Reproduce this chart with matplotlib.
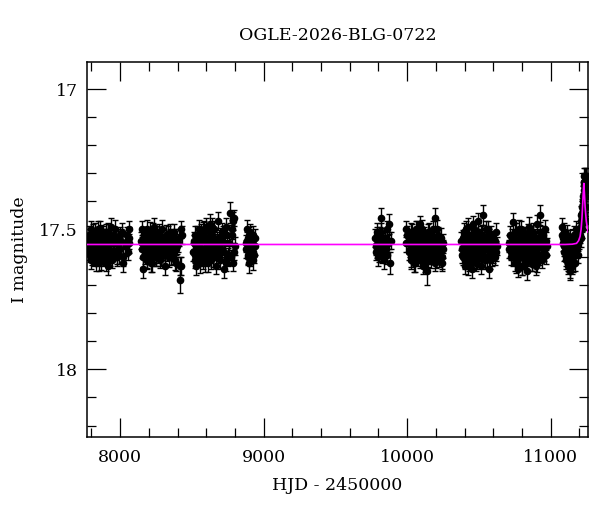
import matplotlib
matplotlib.use("Agg")
import matplotlib.pyplot as plt
from matplotlib.ticker import MultipleLocator

title = "OGLE-2026-BLG-0722"
xlabel = "HJD - 2450000"
ylabel = "I magnitude"

# observing seasons: HJD-2450000, I mag, error
s1_t = [7776, 7783, 7789, 7795, 7801, 7807, 7812, 7818, 7824, 7830,
        7836, 7842, 7847, 7853, 7859, 7865, 7871, 7877, 7883, 7889,
        7895, 7901, 7907, 7913, 7919, 7925, 7931, 7937, 7944, 7950,
        7957, 7964, 7971, 7979, 7987, 7996, 8006, 8017, 8040, 8064]
s1_m = [17.55, 17.52, 17.59, 17.61, 17.54, 17.51, 17.57, 17.60, 17.53, 17.56,
        17.59, 17.50, 17.55, 17.62, 17.54, 17.52, 17.58, 17.56, 17.60, 17.53,
        17.57, 17.51, 17.55, 17.63, 17.54, 17.59, 17.52, 17.49, 17.61, 17.53,
        17.58, 17.50, 17.55, 17.60, 17.57, 17.52, 17.54, 17.62, 17.56, 17.53]
s1_e = [0.030, 0.033, 0.028, 0.031, 0.035, 0.029, 0.032, 0.030, 0.027, 0.034,
        0.031, 0.029, 0.033, 0.030, 0.028, 0.036, 0.031, 0.029, 0.032, 0.030,
        0.034, 0.028, 0.031, 0.033, 0.029, 0.030, 0.035, 0.032, 0.028, 0.031,
        0.030, 0.033, 0.029, 0.031, 0.034, 0.030, 0.028, 0.032, 0.036, 0.040]

s2_t = [8146, 8152, 8158, 8163, 8169, 8175, 8181, 8187, 8193, 8199,
        8205, 8211, 8217, 8223, 8229, 8235, 8241, 8247, 8253, 8259,
        8265, 8271, 8277, 8283, 8289, 8296, 8303, 8310, 8317, 8324,
        8332, 8340, 8349, 8358, 8368, 8379, 8392, 8405, 8417, 8429]
s2_m = [17.54, 17.50, 17.64, 17.57, 17.52, 17.59, 17.55, 17.61, 17.53, 17.56,
        17.51, 17.58, 17.55, 17.62, 17.53, 17.49, 17.57, 17.60, 17.54, 17.52,
        17.59, 17.56, 17.61, 17.53, 17.50, 17.58, 17.55, 17.63, 17.52, 17.57,
        17.54, 17.60, 17.51, 17.56, 17.59, 17.53, 17.62, 17.55, 17.68, 17.52]
s2_e = [0.031, 0.029, 0.033, 0.030, 0.028, 0.034, 0.031, 0.029, 0.032, 0.030,
        0.035, 0.028, 0.031, 0.033, 0.029, 0.030, 0.034, 0.032, 0.028, 0.031,
        0.030, 0.033, 0.029, 0.031, 0.035, 0.030, 0.028, 0.032, 0.036, 0.031,
        0.029, 0.033, 0.030, 0.028, 0.034, 0.031, 0.029, 0.032, 0.046, 0.033]

s3_t = [8508, 8515, 8521, 8528, 8534, 8540, 8546, 8552, 8558, 8564,
        8570, 8576, 8582, 8588, 8594, 8600, 8606, 8612, 8618, 8624,
        8630, 8636, 8642, 8648, 8654, 8660, 8667, 8674, 8681, 8688,
        8695, 8703, 8711, 8720, 8729, 8739, 8750, 8765, 8780, 8795]
s3_m = [17.58, 17.54, 17.61, 17.63, 17.52, 17.56, 17.50, 17.59, 17.55, 17.53,
        17.60, 17.51, 17.57, 17.54, 17.62, 17.49, 17.56, 17.59, 17.53, 17.48,
        17.55, 17.61, 17.52, 17.58, 17.50, 17.56, 17.63, 17.54, 17.47, 17.59,
        17.53, 17.57, 17.51, 17.64, 17.55, 17.49, 17.60, 17.44, 17.52, 17.58]
s3_e = [0.032, 0.030, 0.028, 0.033, 0.031, 0.029, 0.034, 0.030, 0.028, 0.032,
        0.031, 0.035, 0.029, 0.030, 0.033, 0.031, 0.028, 0.032, 0.030, 0.034,
        0.029, 0.031, 0.033, 0.030, 0.028, 0.035, 0.031, 0.029, 0.032, 0.030,
        0.034, 0.028, 0.031, 0.033, 0.029, 0.030, 0.032, 0.036, 0.034, 0.031]

s4_t = [8878, 8883, 8888, 8893, 8898, 8903, 8908, 8913, 8918, 8923, 8928, 8933, 8937, 8940]
s4_m = [17.55, 17.50, 17.60, 17.53, 17.62, 17.57, 17.51, 17.58, 17.54, 17.61, 17.52, 17.59, 17.56, 17.53]
s4_e = [0.030, 0.033, 0.029, 0.031, 0.035, 0.030, 0.028, 0.032, 0.030, 0.034, 0.031, 0.029, 0.033, 0.030]

s5_t = [9778, 9784, 9790, 9796, 9802, 9808, 9814, 9816, 9822, 9828,
        9834, 9840, 9846, 9852, 9858, 9862, 9868, 9874, 9880, 9890]
s5_m = [17.53, 17.58, 17.51, 17.60, 17.55, 17.57, 17.52, 17.46, 17.59, 17.54,
        17.56, 17.61, 17.53, 17.57, 17.50, 17.59, 17.55, 17.48, 17.62, 17.54]
s5_e = [0.032, 0.030, 0.034, 0.031, 0.029, 0.033, 0.030, 0.035, 0.031, 0.028,
        0.032, 0.030, 0.034, 0.029, 0.031, 0.033, 0.030, 0.036, 0.038, 0.031]

s6_t = [9990, 9995, 9998, 10012, 10018, 10024, 10030, 10036, 10042, 10048,
        10054, 10060, 10066, 10072, 10078, 10084, 10090, 10096, 10102, 10108,
        10114, 10120, 10126, 10132, 10137, 10143, 10149, 10155, 10161, 10167,
        10173, 10179, 10185, 10191, 10195, 10201, 10207, 10214, 10222, 10230,
        10240, 10250]
s6_m = [17.55, 17.50, 17.52, 17.58, 17.54, 17.61, 17.51, 17.56, 17.59, 17.53,
        17.62, 17.55, 17.50, 17.57, 17.60, 17.53, 17.48, 17.58, 17.55, 17.63,
        17.52, 17.56, 17.60, 17.54, 17.65, 17.51, 17.57, 17.59, 17.53, 17.61,
        17.55, 17.50, 17.58, 17.62, 17.46, 17.54, 17.57, 17.52, 17.60, 17.56,
        17.60, 17.55]
s6_e = [0.031, 0.029, 0.033, 0.030, 0.028, 0.032, 0.031, 0.034, 0.029, 0.030,
        0.033, 0.031, 0.028, 0.032, 0.030, 0.035, 0.029, 0.031, 0.033, 0.030,
        0.028, 0.032, 0.034, 0.031, 0.047, 0.029, 0.030, 0.033, 0.031, 0.028,
        0.032, 0.030, 0.034, 0.029, 0.036, 0.031, 0.033, 0.030, 0.035, 0.032,
        0.040, 0.034]

s7_t = [10372, 10381, 10388, 10394, 10400, 10406, 10412, 10418, 10424, 10430,
        10436, 10442, 10448, 10454, 10460, 10466, 10472, 10478, 10484, 10490,
        10496, 10502, 10508, 10514, 10520, 10526, 10531, 10537, 10543, 10549,
        10555, 10561, 10567, 10573, 10579, 10585, 10591, 10597, 10601, 10607,
        10614, 10622]
s7_m = [17.54, 17.57, 17.60, 17.51, 17.63, 17.56, 17.53, 17.59, 17.49, 17.62,
        17.55, 17.58, 17.52, 17.64, 17.57, 17.50, 17.60, 17.54, 17.61, 17.53,
        17.47, 17.58, 17.56, 17.63, 17.52, 17.59, 17.45, 17.55, 17.61, 17.53,
        17.57, 17.50, 17.64, 17.56, 17.59, 17.52, 17.60, 17.55, 17.585, 17.57,
        17.54, 17.58]
s7_e = [0.032, 0.030, 0.028, 0.033, 0.031, 0.029, 0.034, 0.030, 0.032, 0.028,
        0.031, 0.035, 0.029, 0.033, 0.030, 0.031, 0.028, 0.034, 0.032, 0.030,
        0.029, 0.033, 0.031, 0.030, 0.035, 0.028, 0.036, 0.032, 0.030, 0.033,
        0.029, 0.031, 0.034, 0.030, 0.028, 0.032, 0.031, 0.033, 0.036, 0.030,
        0.032, 0.034]

s8_t = [10708, 10716, 10724, 10734, 10740, 10746, 10752, 10758, 10764, 10770,
        10776, 10782, 10788, 10794, 10800, 10806, 10812, 10818, 10824, 10830,
        10836, 10842, 10848, 10854, 10860, 10866, 10872, 10878, 10884, 10890,
        10896, 10902, 10908, 10914, 10920, 10927, 10933, 10940, 10948, 10956,
        10964, 10969]
s8_m = [17.55, 17.52, 17.58, 17.475, 17.60, 17.54, 17.62, 17.51, 17.57, 17.64,
        17.53, 17.59, 17.56, 17.50, 17.63, 17.55, 17.58, 17.52, 17.61, 17.54,
        17.65, 17.57, 17.49, 17.60, 17.53, 17.56, 17.62, 17.51, 17.58, 17.55,
        17.63, 17.48, 17.57, 17.60, 17.53, 17.45, 17.59, 17.55, 17.52, 17.58,
        17.54, 17.59]
s8_e = [0.031, 0.033, 0.029, 0.034, 0.030, 0.032, 0.028, 0.031, 0.035, 0.030,
        0.029, 0.033, 0.031, 0.028, 0.034, 0.030, 0.032, 0.029, 0.031, 0.033,
        0.030, 0.028, 0.035, 0.031, 0.029, 0.032, 0.030, 0.034, 0.031, 0.028,
        0.033, 0.030, 0.032, 0.029, 0.031, 0.036, 0.030, 0.033, 0.031, 0.034,
        0.032, 0.035]

s9_t = [11080, 11085, 11090, 11095, 11100, 11104, 11108, 11112, 11116, 11120,
        11124, 11128, 11132, 11136, 11140, 11144, 11148, 11152, 11156, 11160,
        11164, 11168, 11172, 11176, 11180, 11184, 11188, 11192, 11196, 11200,
        11204, 11208, 11212, 11215, 11218, 11221, 11224, 11227, 11230, 11233,
        11236, 11239, 11242, 11245, 11248, 11251, 11254, 11257]
s9_m = [17.49, 17.53, 17.56, 17.51, 17.58, 17.54, 17.60, 17.52, 17.57, 17.62,
        17.55, 17.59, 17.64, 17.53, 17.61, 17.57, 17.63, 17.55, 17.60, 17.52,
        17.58, 17.62, 17.54, 17.50, 17.57, 17.53, 17.59, 17.55, 17.51, 17.54,
        17.50, 17.53, 17.47, 17.50, 17.44, 17.47, 17.40, 17.43, 17.36, 17.33,
        17.35, 17.31, 17.38, 17.31, 17.42, 17.33, 17.47, 17.36]
s9_e = [0.032, 0.030, 0.034, 0.031, 0.029, 0.033, 0.030, 0.035, 0.031, 0.028,
        0.032, 0.030, 0.034, 0.029, 0.031, 0.033, 0.030, 0.032, 0.028, 0.031,
        0.034, 0.030, 0.032, 0.029, 0.031, 0.033, 0.030, 0.028, 0.032, 0.031,
        0.030, 0.033, 0.029, 0.031, 0.030, 0.032, 0.028, 0.031, 0.030, 0.029,
        0.031, 0.030, 0.032, 0.029, 0.031, 0.030, 0.033, 0.031]

# further nights in the same seasons
x1_t = [7779, 7786, 7792, 7798, 7804, 7810, 7815, 7821, 7827, 7833,
        7839, 7845, 7850, 7856, 7862, 7868, 7874, 7880, 7886, 7892,
        7898, 7904, 7910, 7916, 7922, 7928, 7934, 7947, 7960, 7992]
x1_m = [17.58, 17.56, 17.53, 17.50, 17.60, 17.57, 17.54, 17.51, 17.59, 17.62,
        17.55, 17.53, 17.60, 17.57, 17.50, 17.61, 17.54, 17.52, 17.58, 17.56,
        17.62, 17.53, 17.59, 17.51, 17.57, 17.60, 17.55, 17.58, 17.52, 17.59]
x2_t = [8149, 8155, 8161, 8166, 8172, 8178, 8184, 8190, 8196, 8202,
        8208, 8214, 8220, 8226, 8232, 8238, 8244, 8250, 8256, 8262,
        8268, 8274, 8280, 8286, 8293, 8300, 8314, 8336, 8386, 8422]
x2_m = [17.57, 17.55, 17.60, 17.52, 17.58, 17.54, 17.61, 17.50, 17.56, 17.59,
        17.53, 17.62, 17.57, 17.51, 17.59, 17.55, 17.52, 17.60, 17.57, 17.54,
        17.51, 17.58, 17.55, 17.60, 17.53, 17.56, 17.59, 17.52, 17.57, 17.63]
x3_t = [8511, 8518, 8524, 8531, 8537, 8543, 8549, 8555, 8561, 8567,
        8573, 8579, 8585, 8591, 8597, 8603, 8609, 8615, 8621, 8627,
        8633, 8639, 8645, 8651, 8657, 8664, 8684, 8715, 8772, 8788]
x3_m = [17.55, 17.59, 17.52, 17.57, 17.60, 17.53, 17.56, 17.62, 17.51, 17.58,
        17.54, 17.61, 17.50, 17.57, 17.53, 17.59, 17.55, 17.62, 17.51, 17.57,
        17.54, 17.49, 17.60, 17.56, 17.53, 17.58, 17.55, 17.52, 17.60, 17.47]
x4_t = [8880, 8886, 8891, 8896, 8901, 8906, 8916, 8926]
x4_m = [17.57, 17.54, 17.59, 17.52, 17.56, 17.60, 17.55, 17.58]
x5_t = [9781, 9787, 9793, 9799, 9805, 9811, 9819, 9825, 9849, 9871]
x5_m = [17.56, 17.52, 17.57, 17.54, 17.59, 17.55, 17.51, 17.58, 17.56, 17.54]
x6_t = [10015, 10021, 10027, 10033, 10039, 10045, 10051, 10057, 10063, 10069,
        10075, 10081, 10087, 10093, 10099, 10105, 10111, 10117, 10123, 10129,
        10135, 10140, 10146, 10152, 10158, 10164, 10170, 10182, 10198, 10218]
x6_m = [17.53, 17.57, 17.60, 17.51, 17.55, 17.62, 17.58, 17.54, 17.50, 17.59,
        17.56, 17.52, 17.61, 17.55, 17.58, 17.50, 17.57, 17.54, 17.62, 17.59,
        17.53, 17.56, 17.60, 17.51, 17.57, 17.54, 17.59, 17.53, 17.56, 17.58]
x7_t = [10384, 10391, 10397, 10403, 10409, 10415, 10421, 10427, 10433, 10439,
        10445, 10451, 10457, 10463, 10469, 10475, 10481, 10487, 10493, 10499,
        10505, 10511, 10517, 10523, 10534, 10546, 10558, 10570, 10582, 10594]
x7_m = [17.59, 17.53, 17.56, 17.61, 17.50, 17.57, 17.54, 17.63, 17.52, 17.58,
        17.55, 17.61, 17.48, 17.56, 17.59, 17.53, 17.62, 17.57, 17.51, 17.60,
        17.55, 17.52, 17.59, 17.57, 17.54, 17.50, 17.60, 17.53, 17.56, 17.58]
x8_t = [10712, 10720, 10728, 10737, 10743, 10749, 10755, 10761, 10767, 10773,
        10779, 10785, 10791, 10797, 10803, 10809, 10815, 10821, 10827, 10833,
        10839, 10845, 10851, 10857, 10863, 10869, 10881, 10899, 10917, 10944]
x8_m = [17.57, 17.60, 17.53, 17.56, 17.59, 17.51, 17.55, 17.62, 17.58, 17.54,
        17.50, 17.60, 17.57, 17.63, 17.52, 17.56, 17.59, 17.54, 17.61, 17.57,
        17.51, 17.60, 17.55, 17.58, 17.52, 17.62, 17.55, 17.57, 17.60, 17.56]
x9_t = [11082, 11088, 11093, 11098, 11102, 11106, 11110, 11114, 11118, 11122,
        11126, 11130, 11134, 11138, 11142, 11146, 11150, 11154, 11158, 11162,
        11206, 11210, 11214, 11217, 11220, 11223, 11226, 11229, 11232, 11235]
x9_m = [17.52, 17.55, 17.58, 17.53, 17.56, 17.61, 17.57, 17.59, 17.63, 17.55,
        17.60, 17.62, 17.58, 17.65, 17.60, 17.56, 17.61, 17.58, 17.62, 17.57,
        17.52, 17.49, 17.45, 17.48, 17.42, 17.45, 17.38, 17.34, 17.31, 17.33]
x_e = [0.031, 0.029, 0.033, 0.030, 0.028, 0.032, 0.031, 0.034, 0.029, 0.030,
       0.033, 0.031, 0.028, 0.032, 0.030, 0.035, 0.029, 0.031, 0.033, 0.030,
       0.028, 0.032, 0.034, 0.031, 0.029, 0.030, 0.033, 0.031, 0.028, 0.032]

# late nights of several seasons
y1_t = [7975, 7983, 8000, 8011, 8023, 8030, 8046, 8052, 8058, 8062]
y1_m = [17.59, 17.53, 17.57, 17.51, 17.60, 17.55, 17.52, 17.58, 17.55, 17.50]
y2_t = [8328, 8345, 8353, 8363, 8373, 8384, 8397, 8410, 8414, 8426]
y2_m = [17.58, 17.53, 17.60, 17.55, 17.51, 17.61, 17.56, 17.53, 17.63, 17.50]
y3_t = [8692, 8699, 8707, 8724, 8734, 8744, 8756, 8761, 8776, 8784, 8792, 8798]
y3_m = [17.57, 17.61, 17.54, 17.58, 17.62, 17.52, 17.59, 17.55, 17.50, 17.62, 17.46, 17.56]
y6_t = [10176, 10188, 10204, 10210, 10226, 10234, 10245, 10252]
y6_m = [17.58, 17.54, 17.61, 17.50, 17.57, 17.53, 17.62, 17.57]
y7_t = [10540, 10552, 10564, 10576, 10588, 10604, 10611, 10618, 10625]
y7_m = [17.60, 17.55, 17.52, 17.61, 17.57, 17.54, 17.60, 17.51, 17.56]
y8_t = [10875, 10887, 10893, 10905, 10911, 10923, 10937, 10952, 10960, 10972]
y8_m = [17.60, 17.53, 17.58, 17.62, 17.55, 17.51, 17.61, 17.57, 17.50, 17.56]

# microlensing model curve
model_t = [7700, 11100, 11150, 11180, 11195, 11205, 11212, 11218, 11223, 11227,
           11231, 11235, 11240, 11248, 11260]
model_m = [17.554, 17.554, 17.553, 17.550, 17.540, 17.525, 17.50, 17.46, 17.41, 17.37,
           17.336, 17.37, 17.42, 17.47, 17.51]

seasons = [(s1_t, s1_m, s1_e), (s2_t, s2_m, s2_e), (s3_t, s3_m, s3_e),
           (s4_t, s4_m, s4_e), (s5_t, s5_m, s5_e), (s6_t, s6_m, s6_e),
           (s7_t, s7_m, s7_e), (s8_t, s8_m, s8_e), (s9_t, s9_m, s9_e),
           (x1_t, x1_m, x_e), (x2_t, x2_m, x_e), (x3_t, x3_m, x_e),
           (x4_t, x4_m, x_e[:len(x4_t)]), (x5_t, x5_m, x_e[:len(x5_t)]),
           (x6_t, x6_m, x_e), (x7_t, x7_m, x_e), (x8_t, x8_m, x_e),
           (x9_t, x9_m, x_e)]
for t, m in [(y1_t, y1_m), (y2_t, y2_m), (y3_t, y3_m),
             (y6_t, y6_m), (y7_t, y7_m), (y8_t, y8_m)]:
    seasons.append((t, m, x_e[10:10 + len(t)]))

plt.rcParams['font.family'] = ['DejaVu Serif']

fig = plt.figure(figsize=(6.0, 5.12), dpi=100)
ax = fig.add_axes([0.1458, 0.147, 0.8337, 0.7313])

for t, m, e in seasons:
    ax.errorbar(t, m, yerr=e, fmt='o', color='black', ms=4.5,
                ecolor='black', elinewidth=1.0, capsize=2.2, capthick=1.0, zorder=2)

ax.plot(model_t, model_m, color='magenta', lw=1.2, zorder=3)

ax.set_xlim(7772, 11258)
ax.set_ylim(18.24, 16.904)

ax.xaxis.set_major_locator(MultipleLocator(1000))
ax.xaxis.set_minor_locator(MultipleLocator(200))
ax.yaxis.set_major_locator(MultipleLocator(0.5))
ax.yaxis.set_minor_locator(MultipleLocator(0.1))
ax.yaxis.set_major_formatter(plt.FuncFormatter(lambda v, p: ('%g' % v)))

ax.tick_params(which='both', direction='in', top=True, right=True, width=0.9,
               labelsize=12.5)
ax.tick_params(which='major', length=13.5)
ax.tick_params(which='minor', length=6.8)
ax.tick_params(axis='x', pad=9)
ax.tick_params(axis='y', pad=7)
for sp in ax.spines.values():
    sp.set_linewidth(1.1)

ax.set_title(title, fontsize=12.5, pad=16)
ax.set_xlabel(xlabel, fontsize=12.5, labelpad=8)
ax.set_ylabel(ylabel, fontsize=12.5, labelpad=8)

fig.savefig("out.png", dpi=100)
